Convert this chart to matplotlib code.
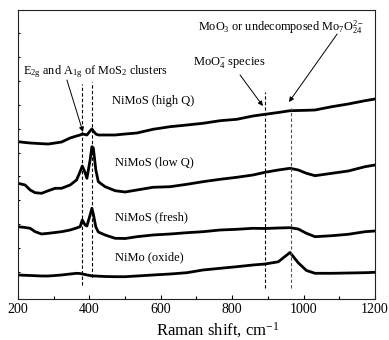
import numpy as np
import matplotlib
matplotlib.use("Agg")
import matplotlib.pyplot as plt
from matplotlib.ticker import MultipleLocator

plt.rcParams['font.family'] = ['Liberation Serif', 'DejaVu Serif']
plt.rcParams['mathtext.fontset'] = 'custom'
plt.rcParams['mathtext.rm'] = 'Liberation Serif'
plt.rcParams['mathtext.it'] = 'Liberation Serif:italic'

# Raman shift sample points (cm^-1)
shift = [200, 220, 234, 248, 266, 285, 304, 322, 346, 364, 374, 380, 388, 393, 402, 407,
         411, 418, 425, 444, 472, 500, 533, 578, 626, 673, 718, 766, 813, 858, 892, 929,
         962, 985, 1008, 1032, 1079, 1125, 1172, 1200]

# Intensities (offset, arbitrary units)
nimo_oxide = [24, 23.7, 23.5, 23.3, 23, 23, 23.5, 24, 25, 25.7, 25.5, 25, 24.5, 24, 23.5, 23,
              23, 23, 22.8, 22.5, 22.3, 22.3, 23, 24, 25, 26.3, 29, 30.7, 32.3, 34, 35, 37.2,
              46.5, 36.2, 28.5, 25.7, 25.7, 26, 26.3, 26.7]
nimos_fresh = [72.3, 71.5, 70.7, 67.3, 65, 65.7, 66.5, 67.3, 69, 71, 72.3, 79, 74, 73, 84, 90.7,
               85, 72, 67, 64, 60.7, 60.5, 62.3, 64, 65, 66.3, 67.3, 69, 69.7, 70.7, 70.5, 71,
               71.3, 70, 65.7, 62.3, 63.3, 64.7, 67.3, 68]
nimos_lowq = [115.7, 114, 109, 106.3, 105.7, 108.3, 110.7, 110.7, 114, 119, 127.3, 133, 126.3,
              120.7, 139, 152.3, 151, 129, 117.3, 112.3, 108.3, 107, 109, 111.7, 112.3, 114.7,
              117.3, 119.7, 121.7, 124, 126.7, 129, 130.7, 129, 125.7, 123.3, 125.7, 128, 132.3, 134]
nimos_highq = [157.3, 156.5, 156, 155.7, 155.3, 155, 156, 157, 161, 163, 164, 165, 164.5, 164,
               168, 170, 168, 165, 164, 164, 164, 165, 166, 169.7, 172.3, 174, 175.7, 178.3,
               179.7, 183, 184.7, 186.5, 188.3, 188.5, 188.7, 189, 192.3, 195, 198.3, 200]

series = [nimo_oxide, nimos_fresh, nimos_lowq, nimos_highq]
labels = ['NiMo (oxide)', 'NiMoS (fresh)', 'NiMoS (low Q)', 'NiMoS (high Q)']
label_x = [472, 472, 472, 463]
label_y = [42, 82, 137, 198]

# reference lines: position, bottom, top
ref_pos = [380, 408, 892, 964]
ref_lo = [14, 22, 11, 11]
ref_hi = [215, 217, 207, 191]
ref_col = ['k', 'k', 'k', '#555555']

fig = plt.figure(figsize=(3.89, 3.40), dpi=100)
ax = fig.add_axes([18/389, 41/340, (375-18)/389, (299-10)/340])

for ys in series:
    ax.plot(shift, ys, color='k', lw=2.0, solid_joinstyle='round')

for xp, lo, hi, c in zip(ref_pos, ref_lo, ref_hi, ref_col):
    ax.plot([xp, xp], [lo, hi], color=c, lw=0.8, ls=(0, (3, 2)))

for t, xl, yl in zip(labels, label_x, label_y):
    ax.text(xl, yl, t, fontsize=9, va='center', ha='left')

arrow = dict(arrowstyle='-|>', color='k', lw=0.7, mutation_scale=7, shrinkA=0, shrinkB=0)
ax.text(214, 227, r'E$_\mathregular{2g}$ and A$_\mathregular{1g}$ of MoS$_\mathregular{2}$ clusters',
        fontsize=8.8, va='center', ha='left')
ax.annotate('', xy=(382, 167), xytext=(337, 219), arrowprops=arrow)
ax.text(690, 237, r'MoO$_\mathregular{4}^{\mathregular{-}}$ species', fontsize=9, va='center', ha='left')
ax.annotate('', xy=(886, 193), xytext=(822, 224), arrowprops=arrow)
ax.text(703, 272, r'MoO$_\mathregular{3}$ or undecomposed Mo$_\mathregular{7}$O$_\mathregular{24}^{\mathregular{2-}}$',
        fontsize=8.8, va='center', ha='left')
ax.annotate('', xy=(959, 197), xytext=(1094, 265), arrowprops=arrow)

ax.set_xlim(200, 1200)
ax.set_ylim(0, 289)
ax.xaxis.set_major_locator(MultipleLocator(200))
ax.xaxis.set_minor_locator(MultipleLocator(100))
ax.set_yticks(27 + 23.9 * np.arange(11))
ax.set_yticklabels([])
ax.tick_params(axis='x', which='major', direction='in', length=3, width=0.8, labelsize=10, pad=3)
ax.tick_params(axis='x', which='minor', direction='in', length=2, width=0.8)
ax.tick_params(axis='y', which='major', direction='in', length=1.5, width=0.8)
for s in ax.spines.values():
    s.set_linewidth(0.8)
    s.set_color('#222222')
ax.set_xlabel(r'Raman shift, cm$^\mathregular{-1}$', fontsize=12, labelpad=1)
ax.xaxis.set_label_coords(0.56, -0.075)

fig.savefig('out.png', dpi=100)
